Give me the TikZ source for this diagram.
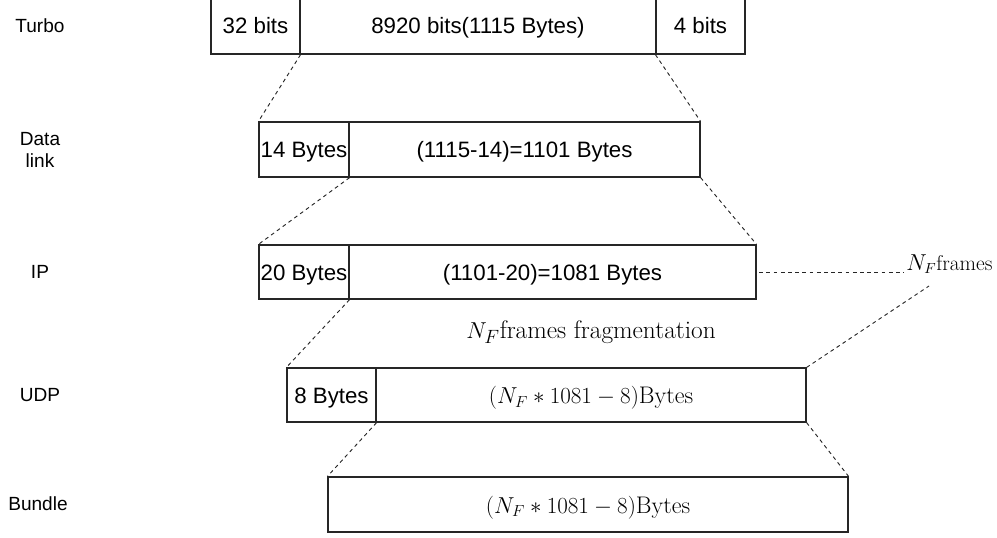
\documentclass[tikz,border=0pt]{standalone}
\usepackage{fontspec}
\setmainfont{Latin Modern Roman}
\newfontfamily\arialfont{Liberation Sans}
\begin{document}
\begin{tikzpicture}[x=0.75pt,y=-0.75pt,
  cell/.style={draw=black!85,line width=0.9pt,inner sep=0pt,
    text height=12pt,text depth=0pt,
    font=\arialfont\fontsize{16.7}{19}\selectfont,text=black},
  mathcell/.style={cell,font=\fontsize{18}{20}\selectfont,text height=13pt},
  layer/.style={font=\arialfont\fontsize{14.3}{16.5}\selectfont,align=center,text=black},
  mathlbl/.style={inner sep=0pt},
  link/.style={dashed,dash pattern=on 2.8pt off 2.6pt,line width=0.7pt,black!85}]
\useasboundingbox (0,0) rectangle (997,537);
\begin{scope}
\clip (0,0) rectangle (997,537);
% Turbo frame (its top edge lies above the page)
\node[cell,minimum width=89*0.75pt,minimum height=57*0.75pt] (t1) at (255.5,25.5) {32 bits};
\node[cell,minimum width=356*0.75pt,minimum height=57*0.75pt] (t2) at (478,25.5) {8920 bits(1115 Bytes)};
\node[cell,minimum width=89*0.75pt,minimum height=57*0.75pt] (t3) at (700.5,25.5) {4 bits};
\end{scope}
% Data link frame
\node[cell,minimum width=90*0.75pt,minimum height=55*0.75pt] (d1) at (304,149.5) {14 Bytes};
\node[cell,minimum width=351*0.75pt,minimum height=55*0.75pt] (d2) at (524.5,149.5) {(1115-14)=1101 Bytes};
% IP packet
\node[cell,minimum width=90*0.75pt,minimum height=54*0.75pt] (i1) at (304,272) {20 Bytes};
\node[cell,minimum width=407*0.75pt,minimum height=54*0.75pt] (i2) at (552.5,272) {(1101-20)=1081 Bytes};
% UDP datagram
\node[cell,minimum width=89*0.75pt,minimum height=54*0.75pt] (u1) at (331.5,395) {8 Bytes};
\node[mathcell,minimum width=430*0.75pt,minimum height=54*0.75pt] (u2) at (591,395) {$(N_F*1081-8)$Bytes};
% Bundle
\node[mathcell,minimum width=520*0.75pt,minimum height=55*0.75pt] (b) at (588,504.5) {$(N_F*1081-8)$Bytes};

% layer names
\node[layer] (lt) at (40,26) {Turbo};
\node[layer] (ld) at (40,150) {Data\\link};
\node[layer] (li) at (40,272) {IP};
\node[layer] (lu) at (40,395) {UDP};
\node[layer] (lb) at (38,504) {Bundle};

% fragmentation notes
\node[mathlbl,font=\fontsize{19}{21}\selectfont] (frag) at (591,332) {$N_F$frames fragmentation};
\node[mathlbl,anchor=west,font=\fontsize{16}{18}\selectfont] (nf) at (906,264) {$N_F$frames};
\coordinate (nfend) at (929,286);

% encapsulation links
\draw[link] (t1.south east) -- (d1.north west);
\draw[link] (t3.south west) -- (d2.north east);
\draw[link] (d1.south east) -- (i1.north west);
\draw[link] (d2.south east) -- (i2.north east);
\draw[link] (i1.south east) -- (u1.north west);
\draw[link] (u1.south east) -- (b.north west);
\draw[link] (u2.south east) -- (b.north east);
\draw[link] ([xshift=2pt]i2.east) -- ([xshift=-2pt]i2.east -| nf.west);
\draw[link] (u2.north east) -- (nfend);
\end{tikzpicture}
\end{document}
